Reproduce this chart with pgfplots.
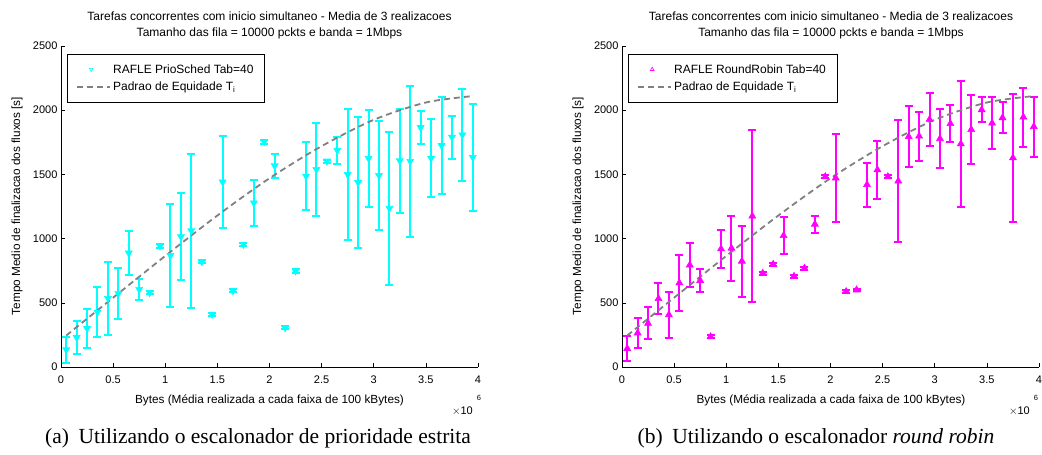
\documentclass[border=0pt]{standalone}
\usepackage{fontspec}
\setmainfont{Liberation Serif}
\newfontfamily\hv{Liberation Sans}
\usepackage{pgfplots}
\usepackage{pgfplotstable}
\pgfplotsset{compat=1.18}

% media e meio-intervalo de cada faixa de 100 kBytes (x em 10^6 bytes)
\pgfplotstableread{
x    y    e
0.05 135  101
0.15 230  131
0.25 300  152
0.35 427  196
0.45 535  286
0.55 572  201
0.65 888  172
0.75 604  82
0.85 579  12
0.95 942  15
1.05 869  399
1.15 1015 337
1.25 1061 599
1.35 820  12
1.45 410  12
1.55 1442 357
1.65 594  12
1.75 955  12
1.85 1278 178
1.95 1755 15
2.05 1567 92
2.15 306  12
2.25 748  12
2.35 1487 264
2.45 1539 360
2.55 1604 12
2.65 1688 107
2.75 1499 510
2.85 1437 513
2.95 1625 376
3.05 1492 425
3.15 1236 597
3.25 1606 404
3.35 1602 587
3.45 1865 131
3.55 1626 304
3.65 1725 380
3.75 1790 168
3.85 1808 357
3.95 1633 416
}\prio

\pgfplotstableread{
x    y    e
0.05 144  97
0.15 265  120
0.25 340  125
0.35 532  120
0.45 407  180
0.55 655  217
0.65 794  169
0.75 674  92
0.85 236  10
0.95 920  147
1.05 925  253
1.15 824  276
1.25 1175 671
1.35 730  10
1.45 800  10
1.55 1023 143
1.65 706  10
1.75 769  10
1.85 1112 66
1.95 1482 10
2.05 1472 340
2.15 587  10
2.25 600  10
2.35 1420 171
2.45 1535 227
2.55 1482 10
2.65 1448 472
2.75 1794 239
2.85 1798 191
2.95 1928 204
3.05 1778 231
3.15 1895 145
3.25 1738 489
3.35 1849 270
3.45 2003 97
3.55 1899 201
3.65 1941 121
3.75 1629 497
3.85 1946 230
3.95 1872 234
}\rr

\pgfplotstableread{
x    y
0.05 245
0.5  540
1.0  865
1.5  1180
2.0  1470
2.5  1720
3.0  1925
3.5  2060
3.95 2110
}\equid

\definecolor{eqgray}{RGB}{128,128,128}
\definecolor{mcyan}{RGB}{0,255,255}
\definecolor{mmag}{RGB}{255,0,255}
\tikzset{eqline/.style={color=eqgray, line width=1.8pt, dash pattern=on 6pt off 4pt}}
\newcommand\lgf{\hv\fontsize{12}{14}\selectfont}

\pgfplotsset{
  rafle/.style={
    width=417pt, height=321pt, scale only axis,
    xmin=0, xmax=4, ymin=0, ymax=2500, enlargelimits=false,
    axis lines=left, axis line style={-, black, line width=0.6pt},
    xtick={0,0.5,...,4}, ytick={0,500,...,2500},
    tick align=inside, major tick length=4pt,
    tick style={black, line width=0.6pt},
    scaled ticks=false,
    /pgf/number format/1000 sep={},
    /pgf/number format/assume math mode=true,
    tick label style={font=\hv\fontsize{11}{13}\selectfont, black},
    xticklabel style={yshift=-5pt},
    legend style={at={(0.0144,0.975)}, anchor=north west, draw=black,
      line width=0.6pt, font=\lgf,
      inner xsep=9pt, inner ysep=8pt, row sep=3.5pt},
    legend cell align=left,
  },
  datapts/.style={forget plot, only marks, line width=2pt, color=#1,
    mark=triangle*, mark size=4pt,
    mark options={fill=#1, draw=#1, line width=0.6pt},
    /pgfplots/error bars/y dir=both, /pgfplots/error bars/y explicit,
    /pgfplots/error bars/every error bar/.style={draw=#1, line width=2pt},
    /pgfplots/error bars/error bar style={draw=#1, line width=2pt},
    /pgfplots/error bars/error mark options={rotate=90, color=#1, line width=2pt, mark size=4pt}},
}

\begin{document}
\begin{tikzpicture}
\path[use as bounding box] (0pt,0pt) rectangle (1042pt,-455pt);

% (a) prioridade estrita
\begin{axis}[rafle, at={(61pt,-367pt)}, anchor=south west]
\addlegendimage{legend image code/.code={%
  \path[draw=none, fill=none] (0pt,0pt) -- (33pt,0pt);
  \path[draw=none] plot[mark=triangle, mark size=2.2pt, mark options={draw=mcyan, fill=none, line width=0.6pt, rotate=180}] coordinates {(14pt,0pt)};}}
\addlegendimage{legend image code/.code={%
  \draw[eqline] (0pt,0pt) -- (33pt,0pt);}}
\legend{{\lgf RAFLE PrioSched Tab=40}, {\lgf Padrao de Equidade T\textsubscript{i}}}
\addplot[datapts=mcyan, mark options={fill=mcyan, draw=mcyan, line width=0.6pt, rotate=180}] table[x=x, y=y, y error=e] {\prio};
\addplot[forget plot, eqline, smooth] table[x=x, y=y] {\equid};
\end{axis}

% (b) round robin
\begin{axis}[rafle, at={(622pt,-367pt)}, anchor=south west]
\addlegendimage{legend image code/.code={%
  \path[draw=none, fill=none] (0pt,0pt) -- (33pt,0pt);
  \path[draw=none] plot[mark=triangle, mark size=2.2pt, mark options={draw=mmag, fill=none, line width=0.6pt}] coordinates {(14pt,0pt)};}}
\addlegendimage{legend image code/.code={%
  \draw[eqline] (0pt,0pt) -- (33pt,0pt);}}
\legend{{\lgf RAFLE RoundRobin Tab=40}, {\lgf Padrao de Equidade T\textsubscript{i}}}
\addplot[datapts=mmag] table[x=x, y=y, y error=e] {\rr};
\addplot[forget plot, eqline, smooth] table[x=x, y=y] {\equid};
\end{axis}

% titulos, rotulos e legendas das figuras
\foreach \cx/\lx/\ex in {269.5/17/473, 831/578/1030} {
  \node[font=\hv\fontsize{12}{14}\selectfont] at (\cx pt,-16pt) {Tarefas concorrentes com inicio simultaneo - Media de 3 realizacoes};
  \node[font=\hv\fontsize{12}{14}\selectfont] at (\cx pt,-33pt) {Tamanho das fila = 10000 pckts e banda = 1Mbps};
  \node[font=\hv\fontsize{11.8}{13}\selectfont] at (\cx pt,-400pt) {Bytes (Média realizada a cada faixa de 100 kBytes)};
  \node[font=\hv\fontsize{11.8}{13}\selectfont, rotate=90] at (\lx pt,-206pt) {Tempo Medio de finalizacao dos fluxos [s]};
  \node[font=\hv\fontsize{11}{12}\selectfont, anchor=east, inner sep=0pt] at (\ex pt,-411pt) {$\times$10};
  \node[font=\hv\fontsize{7.5}{9}\selectfont, inner sep=0pt] at (\ex pt+6pt,-398pt) {6};
}
\node[font=\fontsize{21.5}{25}\selectfont] at (258pt,-438pt) {(a)\hspace{0.45em}Utilizando o escalonador de prioridade estrita};
\node[font=\fontsize{21.5}{25}\selectfont] at (816pt,-438pt) {(b)\hspace{0.45em}Utilizando o escalonador \textit{round robin}};
\end{tikzpicture}
\end{document}
